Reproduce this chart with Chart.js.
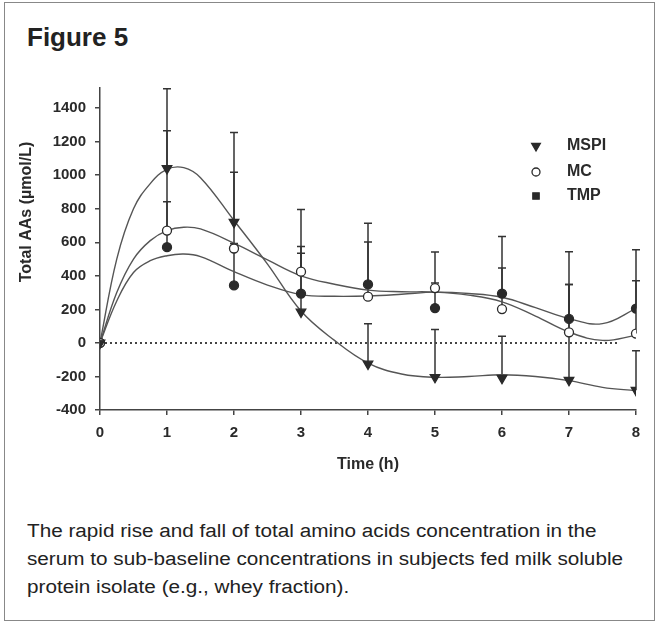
<!DOCTYPE html>
<html>
<head>
<meta charset="utf-8">
<script src="https://cdn.jsdelivr.net/npm/chart.js@4.4.1/dist/chart.umd.min.js"></script>
<style>
  body { margin: 0; background: #fff; font-family: "Liberation Sans", Arial, sans-serif; }
  #frame { position: absolute; left: 4px; top: 2px; width: 651px; height: 619px; border: 1px solid #888; box-sizing: border-box; }
  #title { position: absolute; left: 27px; top: 24px; font: bold 26px/1 "Liberation Sans", Arial, sans-serif; color: #222; }
  #wrap { position: absolute; left: 0; top: 70px; width: 657px; height: 420px; }
  #caption { position: absolute; left: 27px; top: 517px; font: 18px/28px "Liberation Sans", Arial, sans-serif; color: #222; white-space: nowrap; transform: scaleX(1.15); transform-origin: 0 0; }
</style>
</head>
<body>
<div id="frame"></div>
<div id="title">Figure 5</div>
<div id="wrap"><canvas id="fig" width="657" height="420"></canvas></div>
<div id="caption">The rapid rise and fall of total amino acids concentration in the<br>serum to sub-baseline concentrations in subjects fed milk soluble<br>protein isolate (e.g., whey fraction).</div>
<script>
const seriesNames = ['MSPI', 'MC', 'TMP'];
const hours = [0, 1, 2, 3, 4, 5, 6, 7, 8];
const mspi = [0, 1040, 720, 185, -125, -205, -210, -222, -282];
const mc = [0, 670, 563, 425, 276, 327, 202, 63, 56];
const tmp = [0, 571, 343, 294, 349, 208, 294, 143, 205];
// upper error bars (SEM)
const mspiErr = [0, 475, 535, 610, 240, 285, 250, 570, 235];
const mcErr = [0, 595, 455, 150, 325, 215, 245, 480, 500];
const tmpErr = [0, 270, 250, 240, 365, 150, 340, 205, 165];

// fitted smooth curves at these times
const fitTimes = [0, 0.25, 0.5, 0.75, 1, 1.25, 1.5, 2, 2.5, 3, 3.5, 4, 4.5, 5, 5.5, 6, 6.5, 7, 7.5, 8];
const mspiFit = [0, 500, 800, 950, 1035, 1045, 985, 730, 470, 190, 15, -120, -185, -205, -200, -190, -200, -225, -265, -285];
const mcFit = [0, 300, 500, 610, 670, 690, 680, 595, 495, 400, 350, 315, 305, 303, 285, 245, 160, 65, 15, 45];
const tmpFit = [0, 250, 420, 490, 520, 530, 515, 425, 345, 288, 278, 280, 290, 303, 295, 272, 210, 145, 115, 205];

const zeroX = [0, 7.75];
const zeroY = [0, 0];
const yTicks = [-400, -200, 0, 200, 400, 600, 800, 1000, 1200, 1400];

const ink = '#2a2a2a';
const lineCol = '#555';
const tickFont = { family: '"Liberation Sans", Arial, sans-serif', size: 15, weight: 'bold' };

const pts = (xs, ys) => xs.map((x, i) => ({ x: x, y: ys[i] }));

const markerStyles = [
  { pointStyle: 'triangle', rotation: 180, radius: 5.5, fill: ink },
  { pointStyle: 'circle', rotation: 0, radius: 4.5, fill: '#fff' },
  { pointStyle: 'circle', rotation: 0, radius: 4.5, fill: ink }
];
const legendStyles = [
  { pointStyle: 'triangle', rotation: 180, radius: 5, fill: ink },
  { pointStyle: 'circle', rotation: 0, radius: 4, fill: '#fff' },
  { pointStyle: 'rect', rotation: 0, radius: 4.5, fill: ink }
];

function fitLine(data) {
  return {
    type: 'line', data: pts(fitTimes, data), order: 2,
    borderColor: lineCol, borderWidth: 1.4, pointRadius: 0,
    tension: 0.4, fill: false
  };
}
function markers(data, k) {
  const m = markerStyles[k];
  return {
    label: seriesNames[k], data: pts(hours, data), order: 0,
    pointStyle: m.pointStyle, rotation: m.rotation, pointRadius: m.radius,
    backgroundColor: m.fill, borderColor: ink, borderWidth: 1.3, showLine: false
  };
}

const errSets = [[mspi, mspiErr], [mc, mcErr], [tmp, tmpErr]];

const errorBars = {
  id: 'errorBars',
  beforeDatasetsDraw(chart) {
    const { ctx, scales: { x, y } } = chart;
    ctx.save();
    ctx.strokeStyle = '#333';
    ctx.lineWidth = 1.5;
    errSets.forEach(([vals, errs]) => {
      hours.forEach((h, i) => {
        if (!errs[i]) return;
        const px = x.getPixelForValue(h);
        const y0 = y.getPixelForValue(vals[i]);
        const y1 = y.getPixelForValue(vals[i] + errs[i]);
        ctx.beginPath();
        ctx.moveTo(px, y0); ctx.lineTo(px, y1);
        ctx.moveTo(px - 4, y1); ctx.lineTo(px + 4, y1);
        ctx.stroke();
      });
    });
    ctx.restore();
  }
};

const extras = {
  id: 'extras',
  afterDraw(chart) {
    const ctx = chart.ctx;
    ctx.save();
    // y axis title
    ctx.fillStyle = ink;
    ctx.font = 'bold 16px "Liberation Sans", Arial, sans-serif';
    ctx.translate(27, 142);
    ctx.rotate(-Math.PI / 2);
    ctx.textAlign = 'center';
    ctx.textBaseline = 'middle';
    ctx.fillText('Total AAs (\u00b5mol/L)', 0, 0);
    ctx.restore();

    // legend
    ctx.save();
    const rows = [76, 102, 126];
    seriesNames.forEach((name, k) => {
      const s = legendStyles[k];
      ctx.fillStyle = s.fill;
      ctx.strokeStyle = ink;
      ctx.lineWidth = 1.3;
      Chart.helpers.drawPoint(ctx, { pointStyle: s.pointStyle, rotation: s.rotation, radius: s.radius, borderWidth: 1.3 }, 536, rows[k]);
      ctx.fillStyle = ink;
      ctx.font = 'bold 16px "Liberation Sans", Arial, sans-serif';
      ctx.textAlign = 'left';
      ctx.textBaseline = 'middle';
      ctx.fillText(name, 567, rows[k]);
    });
    ctx.restore();
  }
};

new Chart(document.getElementById('fig'), {
  type: 'scatter',
  data: {
    datasets: [
      markers(mspi, 0), markers(mc, 1), markers(tmp, 2),
      fitLine(mspiFit), fitLine(mcFit), fitLine(tmpFit),
      {
        type: 'line', data: pts(zeroX, zeroY), order: 3,
        borderColor: '#444', borderWidth: 2, borderDash: [2, 3], pointRadius: 0
      }
    ]
  },
  options: {
    responsive: false,
    animation: false,
    layout: { padding: { top: 17, right: 21, left: 0, bottom: 0 } },
    plugins: { legend: { display: false }, tooltip: { enabled: false } },
    scales: {
      x: {
        type: 'linear', min: 0, max: 8,
        ticks: { stepSize: 1, padding: 9, color: ink, font: tickFont },
        grid: { drawOnChartArea: false, tickLength: 5, color: '#444', lineWidth: 1.5 },
        border: { color: '#444', width: 1.5 },
        title: { display: true, text: 'Time (h)', color: ink, font: { family: tickFont.family, size: 16, weight: 'bold' }, padding: { top: 0, bottom: 16 } },
        afterFit(s) { s.height = 80; }
      },
      y: {
        min: -400, max: 1520,
        afterBuildTicks(s) { s.ticks = yTicks.map(v => ({ value: v })); },
        ticks: { padding: 9, color: ink, font: tickFont, callback: v => String(v) },
        grid: { drawOnChartArea: false, tickLength: 5, color: '#444', lineWidth: 1.5 },
        border: { color: '#444', width: 1.5 },
        afterFit(s) { s.width = 100; }
      }
    }
  },
  plugins: [errorBars, extras]
});
</script>
</body>
</html>
